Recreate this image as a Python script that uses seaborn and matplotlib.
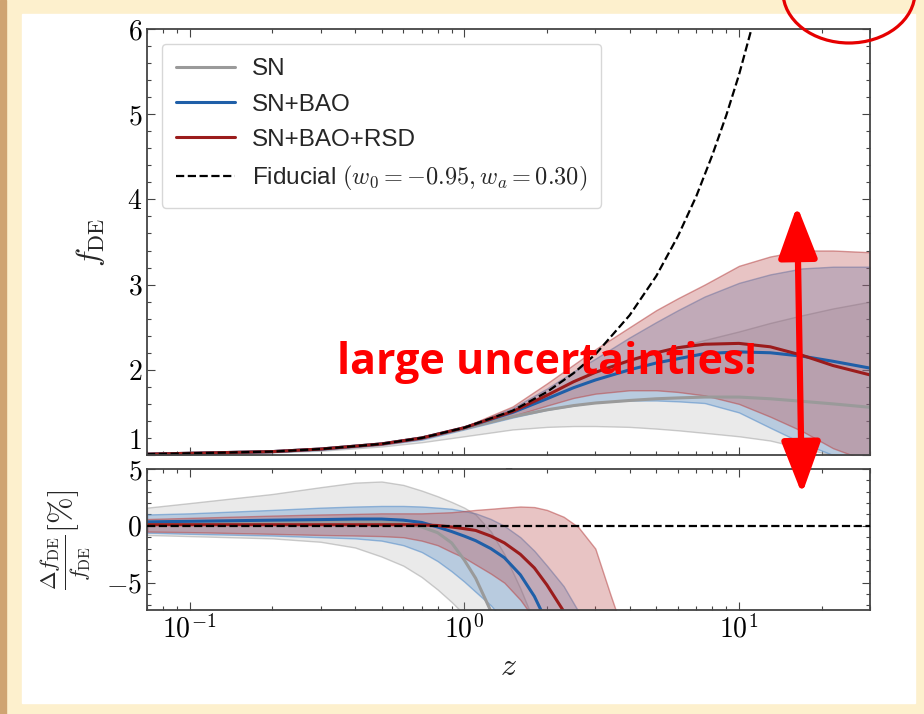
import numpy as np
import pandas as pd
import seaborn as sns
import matplotlib
matplotlib.use('Agg')
import matplotlib.pyplot as plt
from matplotlib.patches import Rectangle, Ellipse, FancyArrowPatch
from matplotlib.ticker import FixedLocator, FuncFormatter, AutoMinorLocator, LogLocator, NullFormatter

# --- values ---
# upper panel: f_DE(z)
z_top = [0.07, 0.1, 0.2, 0.3, 0.5, 0.7, 1.0, 1.5, 2.0, 2.5, 3.0, 4.0, 5.0, 6.0, 7.5, 10, 13, 17, 22, 30]

sn_mean = [1.01, 1.02, 1.04, 1.07, 1.13, 1.2, 1.31, 1.45, 1.53, 1.58, 1.61, 1.64, 1.66, 1.67, 1.68, 1.68, 1.66, 1.63, 1.6, 1.56]
sn_hi = [1.01, 1.02, 1.045, 1.075, 1.14, 1.21, 1.33, 1.53, 1.72, 1.86, 1.97, 2.1, 2.2, 2.27, 2.35, 2.45, 2.55, 2.64, 2.72, 2.8]
sn_lo = [1.0, 1.01, 1.03, 1.05, 1.1, 1.15, 1.22, 1.3, 1.33, 1.34, 1.34, 1.33, 1.31, 1.29, 1.26, 1.22, 1.17, 1.08, 1.0, 0.95]

bao_mean = [1.01, 1.02, 1.04, 1.07, 1.13, 1.2, 1.32, 1.5, 1.66, 1.79, 1.88, 2.0, 2.08, 2.13, 2.19, 2.21, 2.2, 2.16, 2.1, 2.02]
bao_hi = [1.01, 1.02, 1.045, 1.075, 1.14, 1.21, 1.33, 1.55, 1.78, 1.98, 2.13, 2.38, 2.56, 2.7, 2.86, 3.02, 3.12, 3.19, 3.21, 3.21]
bao_lo = [1.0, 1.01, 1.035, 1.06, 1.12, 1.18, 1.3, 1.44, 1.53, 1.58, 1.62, 1.64, 1.64, 1.63, 1.61, 1.5, 1.32, 1.14, 1.0, 0.9]

rsd_mean = [1.01, 1.02, 1.04, 1.07, 1.13, 1.2, 1.32, 1.51, 1.7, 1.86, 1.97, 2.11, 2.2, 2.26, 2.3, 2.31, 2.27, 2.17, 2.05, 1.94]
rsd_hi = [1.01, 1.02, 1.045, 1.075, 1.14, 1.21, 1.33, 1.57, 1.84, 2.06, 2.24, 2.5, 2.7, 2.84, 3.0, 3.22, 3.33, 3.4, 3.4, 3.38]
rsd_lo = [1.0, 1.01, 1.035, 1.065, 1.12, 1.19, 1.31, 1.46, 1.58, 1.67, 1.72, 1.76, 1.76, 1.74, 1.7, 1.6, 1.45, 1.28, 1.08, 0.92]

fid_z = [0.07, 0.1, 0.2, 0.3, 0.5, 0.7, 1, 1.5, 2, 2.5, 3, 4, 5, 6, 7, 8, 9, 10, 11, 12]
fid_f = [1.01, 1.02, 1.04, 1.07, 1.13, 1.2, 1.32, 1.52, 1.74, 1.96, 2.18, 2.64, 3.1, 3.57, 4.04, 4.52, 4.99, 5.46, 5.95, 6.44]

# lower panel: relative deviation in %
z_bot = [0.07, 0.1, 0.2, 0.3, 0.4, 0.5, 0.6, 0.7, 0.8, 0.9, 1.0, 1.1, 1.25, 1.4, 1.6, 1.8, 2.0, 2.3, 2.6, 3.0, 3.4, 4.0]

sn_dmean = [0.3, 0.3, 0.35, 0.4, 0.4, 0.35, 0.2, -0.1, -0.6, -1.5, -3.0, -4.6, -7.5, -10.5, -14, -17, -20, -24, -28, -32, -36, -40]
sn_dhi = [1.6, 2.0, 2.8, 3.4, 3.8, 3.9, 3.6, 3.1, 2.6, 2.1, 1.6, 1.0, -0.5, -2.5, -5.5, -8.5, -11, -15, -19, -23, -27, -31]
sn_dlo = [-0.8, -0.9, -1.1, -1.4, -1.9, -2.7, -3.5, -4.5, -5.6, -6.7, -7.8, -9.0, -11, -13, -16, -19, -22, -26, -30, -34, -38, -42]

bao_dmean = [0.35, 0.4, 0.5, 0.55, 0.6, 0.6, 0.5, 0.3, -0.1, -0.5, -0.9, -1.3, -2.0, -2.8, -4.3, -6.2, -8.5, -12, -15, -19, -23, -27]
bao_dhi = [1.0, 1.1, 1.4, 1.6, 1.7, 1.75, 1.75, 1.7, 1.6, 1.5, 1.3, 1.1, 0.6, 0.0, -1.0, -2.2, -3.5, -5.3, -7.5, -10.5, -14, -18]
bao_dlo = [-0.6, -0.7, -0.85, -1.0, -1.1, -1.3, -1.7, -2.3, -3.1, -4.0, -4.9, -5.8, -7.0, -8.4, -10.5, -13, -15.5, -19, -23, -27, -31, -35]

rsd_dmean = [0.1, 0.1, 0.1, 0.1, 0.1, 0.1, 0.1, 0.08, 0.03, -0.1, -0.25, -0.4, -0.9, -1.5, -2.5, -3.7, -5.2, -7.5, -10, -14, -18, -22]
rsd_dhi = [0.6, 0.7, 0.9, 1.0, 1.05, 1.1, 1.1, 1.1, 1.15, 1.2, 1.3, 1.4, 1.5, 1.6, 1.7, 1.65, 1.4, 0.8, -0.1, -2.0, -6.0, -11]
rsd_dlo = [-0.5, -0.55, -0.7, -0.8, -0.85, -0.9, -1.0, -1.3, -1.7, -2.3, -2.8, -3.4, -4.2, -5.0, -6.5, -8.2, -10, -13, -16, -20, -24, -28]

labels = ['SN', 'SN+BAO', 'SN+BAO+RSD']
line_colors = ['#9a9a9a', '#1f5fa8', '#9b1c1c']
fill_colors = ['#a3a3a3', '#4f8ac9', '#b84848']
fill_alpha = [0.22, 0.32, 0.32]

top = pd.DataFrame({'z': z_top,
                    'SN': sn_mean, 'SN_lo': sn_lo, 'SN_hi': sn_hi,
                    'SN+BAO': bao_mean, 'SN+BAO_lo': bao_lo, 'SN+BAO_hi': bao_hi,
                    'SN+BAO+RSD': rsd_mean, 'SN+BAO+RSD_lo': rsd_lo, 'SN+BAO+RSD_hi': rsd_hi})
bot = pd.DataFrame({'z': z_bot,
                    'SN': sn_dmean, 'SN_lo': sn_dlo, 'SN_hi': sn_dhi,
                    'SN+BAO': bao_dmean, 'SN+BAO_lo': bao_dlo, 'SN+BAO_hi': bao_dhi,
                    'SN+BAO+RSD': rsd_dmean, 'SN+BAO+RSD_lo': rsd_dlo, 'SN+BAO+RSD_hi': rsd_dhi})

sns.set_theme(style='ticks')
plt.rcParams['font.family'] = ['Liberation Sans', 'DejaVu Sans']
plt.rcParams['mathtext.fontset'] = 'cm'
plt.rcParams.update({
    'xtick.direction': 'in', 'ytick.direction': 'in',
    'xtick.top': True, 'ytick.right': True,
    'xtick.minor.visible': True, 'ytick.minor.visible': True,
    'xtick.major.size': 6, 'ytick.major.size': 6,
    'xtick.minor.size': 3, 'ytick.minor.size': 3,
    'xtick.color': '#444444', 'ytick.color': '#444444',
    'xtick.labelcolor': 'black', 'ytick.labelcolor': 'black',
})

fig = plt.figure(figsize=(9.24, 7.14), dpi=100, facecolor='#fdf0cd')
fig.add_artist(Rectangle((0, 0), 6 / 924, 1, transform=fig.transFigure,
                         color='#cfa472', zorder=-2))
fig.add_artist(Rectangle((22 / 924, 1 - 703 / 714), 893 / 924, 689 / 714,
                         transform=fig.transFigure, color='white', zorder=-1))

ax1 = fig.add_axes([147 / 924, 1 - 455 / 714, 723 / 924, 426 / 714])
ax2 = fig.add_axes([147 / 924, 1 - 610 / 714, 723 / 924, 141 / 714], sharex=ax1)

for ax, df in ((ax1, top), (ax2, bot)):
    for name, lc, fc, a in zip(labels, line_colors, fill_colors, fill_alpha):
        rgb = matplotlib.colors.to_rgb(fc)
        ax.fill_between(df['z'], df[name + '_lo'], df[name + '_hi'],
                        facecolor=rgb + (a,), edgecolor=rgb + (0.55,), lw=1.0)
    for name, lc in zip(labels, line_colors):
        sns.lineplot(x=df['z'], y=df[name], ax=ax, color=lc, lw=2.2,
                     label=name, legend=False, estimator=None, sort=False)

sns.lineplot(x=fid_z, y=fid_f, ax=ax1, color='black', lw=1.6, linestyle='--',
             label=r'Fiducial $(w_0=-0.95, w_a=0.30)$', legend=False,
             estimator=None, sort=False)
ax2.axhline(0, color='black', lw=1.6, ls='--', zorder=5)

ax1.set_xscale('log')
ax1.set_xlim(0.07, 30)
ax1.set_ylim(1, 6)
ax2.set_ylim(-7.4, 5)

logfmt = FuncFormatter(lambda v, p: r'$10^{%d}$' % round(np.log10(v)))
ax2.xaxis.set_major_locator(FixedLocator([0.1, 1, 10]))
ax2.xaxis.set_major_formatter(logfmt)
ax2.xaxis.set_minor_locator(LogLocator(base=10, subs=np.arange(2, 10)))
ax2.xaxis.set_minor_formatter(NullFormatter())
ax1.tick_params(axis='x', labelbottom=False)

numfmt = FuncFormatter(lambda v, p: r'$%g$' % v)
ax1.yaxis.set_major_locator(FixedLocator([1, 2, 3, 4, 5, 6]))
ax1.yaxis.set_major_formatter(numfmt)
ax1.yaxis.set_minor_locator(AutoMinorLocator(5))
ax2.yaxis.set_major_locator(FixedLocator([-5, 0, 5]))
ax2.yaxis.set_major_formatter(numfmt)
ax2.yaxis.set_minor_locator(AutoMinorLocator(5))

for ax in (ax1, ax2):
    ax.set_facecolor('white')
    ax.tick_params(which='both', labelsize=20, width=0.8)
    for s in ax.spines.values():
        s.set_color('#444444')
        s.set_linewidth(1.3)

# the "1" of the upper panel sits just above the "5" of the lower one
ax1.get_yticklabels()[0].set_verticalalignment('bottom')

ax1.set_ylabel(r'$f_{\rm DE}$', fontsize=23)
ax1.yaxis.set_label_coords(-0.055, 0.5)
ax2.set_ylabel(r'$\frac{\Delta f_{\rm DE}}{f_{\rm DE}}[\%]$', fontsize=23)
ax2.yaxis.set_label_coords(-0.075, 0.5)
ax2.set_xlabel(r'$z$', fontsize=23, labelpad=6)

leg = ax1.legend(loc='upper left', fontsize=17.5, frameon=True, fancybox=True,
                 framealpha=0.85, edgecolor='#d0d0d0', handlelength=2.4,
                 labelspacing=0.55, borderpad=0.6, handletextpad=0.7,
                 borderaxespad=0.6)

# slide annotations
fig.text(547 / 924, 1 - 362 / 714, 'large uncertainties!', color='#ff0000',
         fontsize=31, fontweight='bold', family=['Open Sans', 'DejaVu Sans'],
         ha='center', va='center', zorder=10)
fig.add_artist(FancyArrowPatch((797 / 924, 1 - 203 / 714), (802 / 924, 1 - 497 / 714),
                               transform=fig.transFigure,
                               arrowstyle='<|-|>,head_length=1.6,head_width=0.6',
                               mutation_scale=20, lw=4.5, color='#ff0000', zorder=11))
fig.add_artist(Ellipse((849 / 924, 1 + 8 / 714), 132 / 924, 102 / 714,
                       transform=fig.transFigure, fill=False, ec='#e60000',
                       lw=2.3, zorder=11))

fig.savefig('out.png', dpi=100, facecolor=fig.get_facecolor())
